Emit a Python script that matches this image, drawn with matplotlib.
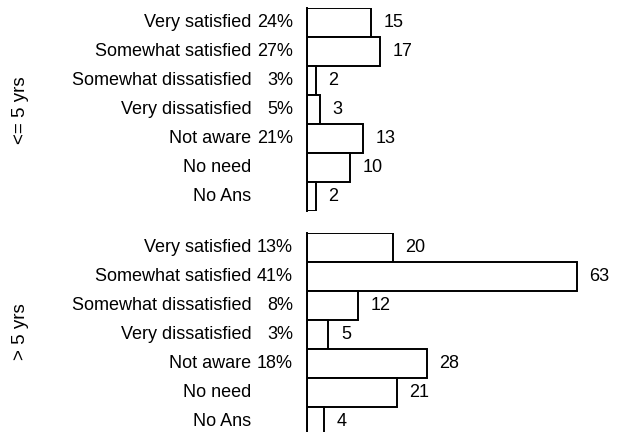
import matplotlib.pyplot as plt
from matplotlib.transforms import blended_transform_factory

plt.rcParams['font.family'] = ['Liberation Sans', 'DejaVu Sans']

categories = ['Very satisfied', 'Somewhat satisfied', 'Somewhat dissatisfied',
              'Very dissatisfied', 'Not aware', 'No need', 'No Ans']
groups = ['<= 5 yrs', '> 5 yrs']
counts_short = [15, 17, 2, 3, 13, 10, 2]
pct_short = ['24%', '27%', '3%', '5%', '21%', '', '']
counts_long = [20, 63, 12, 5, 28, 21, 4]
pct_long = ['13%', '41%', '8%', '3%', '18%', '', '']

W, H = 617, 432
fig = plt.figure(figsize=(W / 100, H / 100), dpi=100)
fs = 13

# axes boxes in pixels: left, top, right, bottom
x0 = 307
xmax = 70
px_per_unit = 4.28
x1 = x0 + xmax * px_per_unit
boxes = [(8, 211), (233, 436)]
data = [(counts_short, pct_short), (counts_long, pct_long)]
label_y = [110, 332]

for (top, bot), (vals, pcts), grp, ly in zip(boxes, data, groups, label_y):
    ax = fig.add_axes([x0 / W, 1 - bot / H, (x1 - x0) / W, (bot - top) / H])
    y = list(range(len(categories)))
    ax.barh(y, vals, height=1.0, color='white', edgecolor='black', linewidth=1.4)
    ax.set_ylim(len(categories) - 0.5, -0.5)
    ax.set_xlim(0, xmax)
    for s in ['top', 'right', 'bottom']:
        ax.spines[s].set_visible(False)
    ax.spines['left'].set_linewidth(1.4)
    ax.set_xticks([])
    ax.set_yticks([])
    ax.patch.set_alpha(0)
    trans = blended_transform_factory(ax.transAxes, ax.transData)
    for i, (c, v, p) in enumerate(zip(categories, vals, pcts)):
        ax.annotate(c, xy=(0, i), xycoords=trans, xytext=(-40, 0),
                    textcoords='offset points', ha='right', va='center', fontsize=fs)
        if p:
            ax.annotate(p, xy=(0, i), xycoords=trans, xytext=(-10, 0),
                        textcoords='offset points', ha='right', va='center', fontsize=fs)
        ax.annotate(str(v), xy=(v, i), xytext=(9, 0), textcoords='offset points',
                    ha='left', va='center', fontsize=fs)
    fig.text(21 / W, 1 - ly / H, grp, rotation=90, ha='center', va='center', fontsize=fs + 0.5)

fig.savefig('out.png', dpi=100)
